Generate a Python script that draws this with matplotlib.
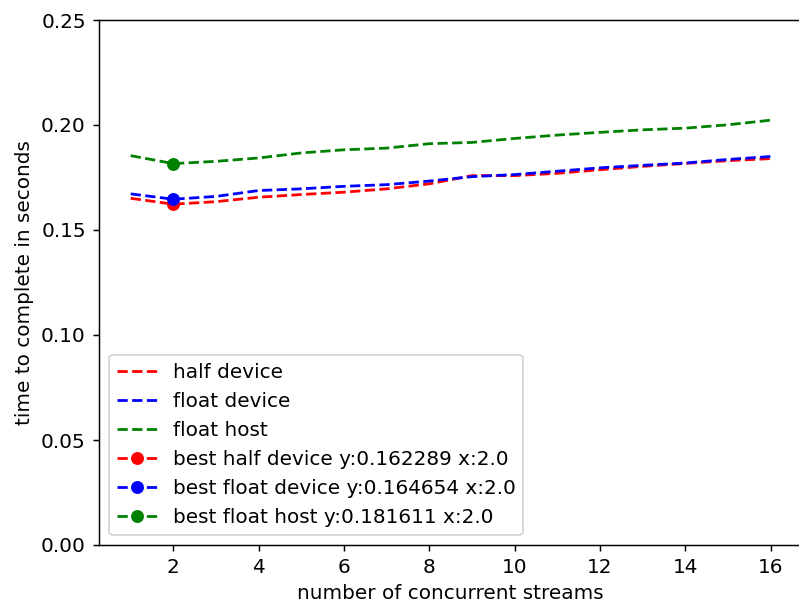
import matplotlib
matplotlib.use("Agg")
import matplotlib.pyplot as plt

# Timing runs per number of concurrent streams
streams = [1, 2, 3, 4, 5, 6, 7, 8, 9, 10, 11, 12, 13, 14, 15, 16]

half_device = [0.1651, 0.162289, 0.1635, 0.1656, 0.1669, 0.1680, 0.1696, 0.1720,
               0.1759, 0.1759, 0.1770, 0.1787, 0.1803, 0.1817, 0.1830, 0.1840]
float_device = [0.1672, 0.164654, 0.1660, 0.1688, 0.1696, 0.1708, 0.1716, 0.1733,
                0.1754, 0.1764, 0.1780, 0.1796, 0.1808, 0.1819, 0.1836, 0.1850]
float_host = [0.1854, 0.181611, 0.1827, 0.1843, 0.1867, 0.1882, 0.1890, 0.1911,
              0.1917, 0.1936, 0.1952, 0.1965, 0.1977, 0.1985, 0.2001, 0.2023]

series = [
    ("half device", half_device, "r"),
    ("float device", float_device, "b"),
    ("float host", float_host, "g"),
]

plt.rcParams["font.size"] = 10.8

DPI = 133
fig = plt.figure(figsize=(799 / DPI, 608 / DPI), dpi=DPI)
ax = fig.add_axes([98.7 / 799, 63 / 608, 704 / 799, 525 / 608])

for name, vals, col in series:
    ax.plot(streams, vals, "--", color=col, label=name)

# Mark the fastest run of each series
for name, vals, col in series:
    i = vals.index(min(vals))
    x_best = float(streams[i])
    ax.plot(x_best, vals[i], "o--", color=col,
            label=f"best {name} y:{vals[i]:.6f} x:{x_best}")

ax.set_ylim(0, 0.25)
ax.set_xlabel("number of concurrent streams")
ax.set_ylabel("time to complete in seconds")
ax.legend(loc="lower left")

fig.savefig("out.png", dpi=DPI)
